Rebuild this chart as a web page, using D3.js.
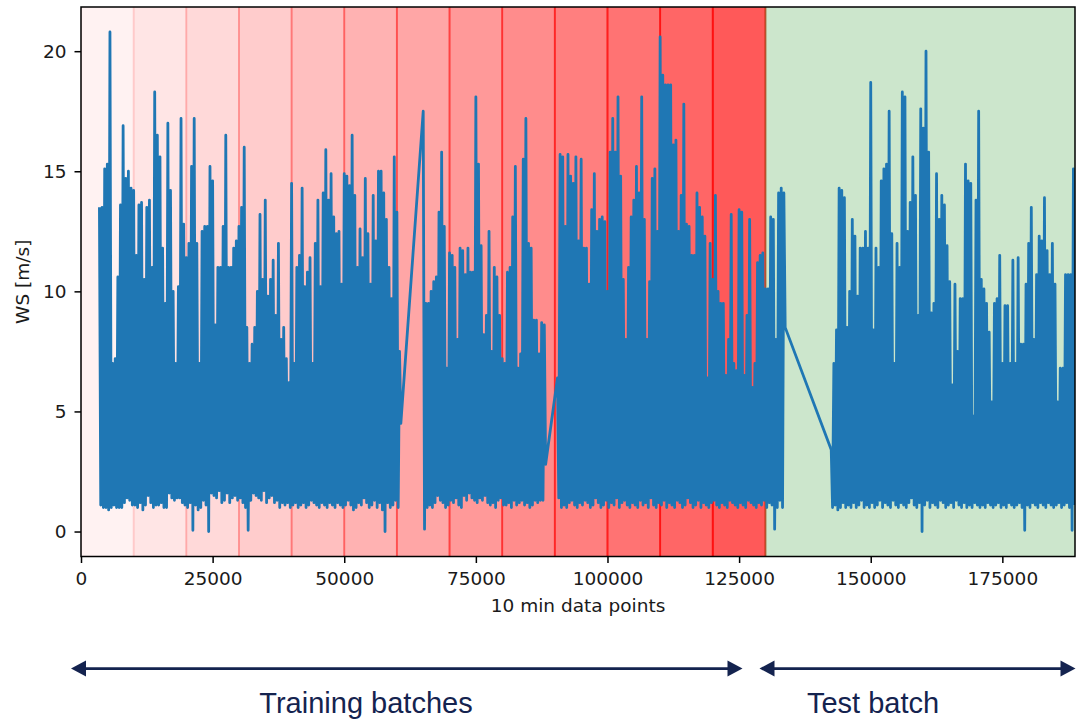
<!DOCTYPE html>
<html>
<head>
<meta charset="utf-8">
<script src="https://cdn.jsdelivr.net/npm/d3@7"></script>
<style>
  html, body { margin: 0; padding: 0; background: #ffffff; }
  svg { display: block; }
</style>
</head>
<body>
<svg id="chart" width="1076" height="721"></svg>
<script>
// Wind speed record, 10-minute samples, stored as min/max pairs per 500-sample window.
const SAMPLE_STEP = 500;
const segmentStarts = [3500, 65000, 90500, 142500];

const hiA = [13.5,13.5,15.1,15.3,20.8,7.0,7.2,10.6,13.6,16.9,
  14.7,15.0,14.3,14.2,11.5,13.6,13.7,10.5,13.5,13.8,
  11.0,18.3,16.5,15.6,11.8,9.5,17.0,14.2,10.0,7.0,
  10.2,17.2,12.8,11.4,12.0,15.2,17.2,12.0,7.0,12.5,
  12.7,12.7,15.2,14.6,8.6,11.0,11.0,12.7,16.5,11.0,
  11.0,11.8,12.1,12.7,13.5,16.0,8.5,7.0,7.8,8.5,
  10.0,13.2,10.5,13.8,9.8,10.5,11.3,9.0,12.0,8.0,
  8.5,7.2,6.2,14.5,7.0,11.0,11.5,14.3,10.2,10.8,
  11.4,7.0,12.0,13.8,10.2,14.1,15.9,13.8,14.9,13.1,
  12.4,12.5,10.3,14.9,14.8,14.4,16.5,14.0,11.0,12.6,
  11.4,14.7,12.4,10.3,14.0,12.1,15.0,15.0,14.1,13.0,
  11.0,9.7,15.6,13.3,7.5];
const loA = [1.1,1.0,1.0,0.9,1.0,1.1,1.0,1.0,1.0,1.2,
  1.4,1.3,1.1,1.1,1.0,1.2,0.9,1.1,1.5,1.2,
  1.0,1.1,1.1,1.2,1.0,1.0,1.6,1.4,1.3,1.4,
  1.4,1.2,1.1,1.0,1.2,0.05,1.1,0.9,1.0,1.3,
  1.1,0.0,1.6,1.5,1.4,1.7,1.2,1.3,1.6,1.2,
  1.4,1.5,1.3,1.4,1.2,1.0,0.05,1.3,1.6,1.5,
  1.4,1.3,1.7,1.2,1.4,1.5,1.2,1.3,1.0,1.2,
  1.1,1.2,1.0,1.1,1.2,1.0,1.1,1.2,1.0,1.1,
  1.3,1.2,1.1,1.0,1.2,1.1,1.0,1.2,1.1,1.0,
  1.2,1.1,1.0,1.1,1.3,1.1,0.9,1.0,1.2,1.1,
  1.4,1.2,1.0,1.1,1.3,1.0,1.2,0.9,0.0,1.2,
  1.0,1.1,1.3,1.0,4.5];

const hiB = [17.5,9.5,9.5,10.0,10.4,10.6,13.3,15.8,12.7,6.8,
  11.6,11.5,11.0,8.0,11.8,11.7,10.7,11.8,10.8,10.8,
  18.1,15.3,11.9,8.2,9.0,12.5,7.5,11.0,10.6,9.0,
  7.2,7.0,10.8,11.0,13.1,15.2,6.8,7.4,15.5,17.2,
  12.0,11.8,8.8,8.8,7.4,8.7,8.6];
const loB = [0.1,1.0,1.1,1.0,1.2,1.5,1.3,1.2,1.0,1.1,
  1.3,1.2,1.4,1.1,1.0,1.5,1.3,1.6,1.4,1.3,
  1.2,1.4,1.3,1.5,1.2,1.1,1.2,1.0,1.3,1.4,
  1.1,1.1,1.2,1.0,1.3,1.1,1.2,1.3,1.1,1.2,
  1.0,1.1,1.3,1.2,1.3,1.3,2.8];

const hiC = [6.4,15.7,15.6,12.7,15.7,14.8,14.5,15.6,12.1,15.5,
  11.8,11.8,10.3,13.4,14.9,12.5,13.0,13.1,12.9,10.0,
  15.8,17.2,15.8,18.1,14.8,10.5,8.0,11.0,13.1,13.8,
  15.2,14.1,18.1,13.0,8.0,10.4,14.7,15.1,12.5,20.6,
  19.0,18.6,18.6,18.6,16.1,16.3,12.5,14.0,17.8,12.8,
  12.7,11.5,11.5,14.1,13.5,13.1,12.3,6.4,12.0,10.5,
  14.0,10.0,9.5,9.5,6.5,8.0,13.2,7.0,6.7,13.4,
  13.3,6.5,9.0,13.0,6.0,7.0,11.2,11.5,11.6,10.1,
  10.1,13.1,13.0,8.0,14.1,14.3,14.1];
const loC = [1.4,1.0,1.1,1.0,1.2,1.3,1.1,1.0,1.2,1.1,
  1.3,1.2,1.0,1.1,1.4,1.2,1.0,1.1,1.3,1.0,
  1.2,1.1,1.4,1.0,1.2,1.3,1.1,1.0,1.2,1.1,
  1.0,1.3,1.1,1.2,1.0,1.4,1.1,1.0,1.2,1.1,
  1.3,1.0,1.2,1.1,1.0,1.3,1.2,1.0,1.1,1.4,
  1.2,1.0,1.1,1.3,1.0,1.2,1.1,1.0,1.2,1.3,
  1.1,1.0,1.2,1.1,1.0,1.3,1.2,1.1,1.0,1.2,
  1.1,1.0,1.3,1.2,1.1,1.0,1.2,1.1,1.3,1.0,
  1.2,1.1,0.1,1.0,1.3,1.0,8.5];

const hiD = [3.4,7.0,8.4,14.3,14.2,13.9,8.5,10.0,13.0,12.3,
  9.8,11.8,11.8,12.5,11.8,18.7,8.4,11.8,11.0,14.6,
  15.1,15.3,17.5,12.4,7.0,12.0,11.0,18.3,18.1,12.5,
  13.7,15.6,14.0,9.0,17.6,16.8,20.0,15.8,9.1,9.5,
  14.9,13.0,14.0,13.6,11.9,10.4,6.1,10.3,7.5,9.7,
  9.7,15.3,14.6,14.5,4.8,13.8,17.5,10.5,10.1,9.5,
  8.3,5.4,9.5,9.7,11.5,7.0,9.4,9.4,7.0,11.3,
  7.0,11.4,7.8,7.8,10.3,12.0,13.5,8.0,10.7,12.3,
  12.1,13.9,11.7,10.7,12.0,10.3,5.4,6.8,6.8,10.7,
  10.7,10.7,15.1];
const loD = [1.0,1.1,0.9,1.0,1.2,1.0,1.1,1.0,1.2,1.0,
  1.1,1.3,1.0,1.1,1.0,1.2,1.0,1.1,1.3,1.0,
  1.2,1.1,1.0,1.3,1.1,1.0,1.2,1.1,1.0,1.2,
  1.4,1.1,1.0,1.2,0.0,1.1,1.3,1.0,1.2,1.1,
  1.0,1.3,1.2,1.0,1.1,1.2,1.0,1.3,1.1,1.0,
  1.2,1.0,1.1,1.0,1.2,1.1,1.0,1.1,1.0,1.2,
  1.1,1.0,1.1,1.2,1.0,1.1,1.0,1.2,1.1,1.0,
  1.1,1.2,1.0,0.05,1.1,1.0,1.2,1.1,1.0,1.2,
  1.1,1.0,1.2,1.1,1.0,1.1,1.2,1.0,1.1,1.2,
  1.0,0.05,1.1];

// Training batches (10 000 samples each) and the held-out test batch
const batchEdges = [0,10000,20000,30000,40000,50000,60000,70000,80000,90000,100000,110000,120000,130000];
const batchAlphas = [0.05,0.10,0.15,0.20,0.25,0.30,0.35,0.40,0.45,0.50,0.55,0.60,0.65];
const testRange = [130000, 188800];
const xDomain = [0, 188800];
const yDomain = [-1.04, 21.84];
const xTicks = [0,25000,50000,75000,100000,125000,150000,175000];
const yTicks = [0,5,10,15,20];

const svg = d3.select("#chart");
const W = 1076, H = 721;
const plot = {left: 81, right: 1075, top: 7, bottom: 556.5};

const x = d3.scaleLinear().domain(xDomain).range([plot.left, plot.right]);
const y = d3.scaleLinear().domain(yDomain).range([plot.bottom, plot.top]);

svg.append("rect").attr("width", W).attr("height", H).attr("fill", "#ffffff");

svg.append("defs").append("clipPath").attr("id", "plotClip")
  .append("rect")
  .attr("x", plot.left).attr("y", plot.top)
  .attr("width", plot.right - plot.left).attr("height", plot.bottom - plot.top);

const inner = svg.append("g").attr("clip-path", "url(#plotClip)");

// shaded batches
const bands = batchAlphas.map((a, i) => ({x0: batchEdges[i], x1: batchEdges[i + 1], a, color: "#ff0000"}));
bands.push({x0: testRange[0], x1: testRange[1] + 2000, a: 0.2, color: "#008000"});

inner.selectAll("rect.band").data(bands).join("rect")
  .attr("class", "band")
  .attr("x", d => x(d.x0))
  .attr("width", d => x(d.x1) - x(d.x0))
  .attr("y", plot.top - 3)
  .attr("height", plot.bottom - plot.top + 6)
  .attr("fill", d => d.color)
  .attr("fill-opacity", d => d.a)
  .attr("stroke", d => d.color)
  .attr("stroke-opacity", d => d.a)
  .attr("stroke-width", 1.85);

// wind speed trace
const segments = [[hiA, loA], [hiB, loB], [hiC, loC], [hiD, loD]];
const points = [];
segments.forEach(([hi, lo], s) => {
  hi.forEach((v, i) => {
    const x0 = segmentStarts[s] + i * SAMPLE_STEP;
    points.push({x: x0, v: v});
    points.push({x: x0 + SAMPLE_STEP / 2, v: lo[i]});
  });
});

const line = d3.line().x(d => x(d.x)).y(d => y(d.v));
inner.append("path")
  .datum(points)
  .attr("d", line)
  .attr("fill", "none")
  .attr("stroke", "#1f77b4")
  .attr("stroke-width", 2.8)
  .attr("stroke-linejoin", "round")
  .attr("stroke-linecap", "butt");

// axes
const tickFont = "DejaVu Sans, sans-serif";
const xAxis = svg.append("g")
  .attr("transform", `translate(0,${plot.bottom})`)
  .call(d3.axisBottom(x).tickValues(xTicks).tickFormat(d3.format("d")).tickSize(6.5).tickSizeOuter(0).tickPadding(9));
const yAxis = svg.append("g")
  .attr("transform", `translate(${plot.left},0)`)
  .call(d3.axisLeft(y).tickValues(yTicks).tickFormat(d3.format("d")).tickSize(6.5).tickSizeOuter(0).tickPadding(8));

[xAxis, yAxis].forEach(g => {
  g.select(".domain").remove();
  g.selectAll(".tick line").attr("stroke", "#000").attr("stroke-width", 1.5);
  g.selectAll(".tick text")
    .attr("fill", "#1a1a1a")
    .style("font-family", tickFont)
    .style("font-size", "18.5px");
});

// frame
svg.append("rect")
  .attr("x", plot.left).attr("y", plot.top)
  .attr("width", plot.right - plot.left).attr("height", plot.bottom - plot.top)
  .attr("fill", "none").attr("stroke", "#000").attr("stroke-width", 1.5);

svg.append("text")
  .attr("x", (plot.left + plot.right) / 2).attr("y", 612)
  .attr("text-anchor", "middle")
  .attr("fill", "#1a1a1a")
  .style("font-family", tickFont).style("font-size", "18.5px")
  .text("10 min data points");

svg.append("text")
  .attr("transform", `translate(29,${(plot.top + plot.bottom) / 2}) rotate(-90)`)
  .attr("text-anchor", "middle")
  .attr("fill", "#1a1a1a")
  .style("font-family", tickFont).style("font-size", "18.5px")
  .text("WS [m/s]");

// batch span arrows
const navy = "#14234f";
const arrowY = 668.5;
const head = 15, half = 8;
const spans = [
  {from: 71, to: 742.5, label: "Training batches", cx: 366},
  {from: 759.5, to: 1075.5, label: "Test batch", cx: 873}
];
const arrows = svg.append("g");
spans.forEach(s => {
  arrows.append("line")
    .attr("x1", s.from + head - 1).attr("x2", s.to - head + 1)
    .attr("y1", arrowY).attr("y2", arrowY)
    .attr("stroke", navy).attr("stroke-width", 2.75);
  arrows.append("polygon")
    .attr("points", `${s.from},${arrowY} ${s.from + head},${arrowY - half} ${s.from + head},${arrowY + half}`)
    .attr("fill", navy);
  arrows.append("polygon")
    .attr("points", `${s.to},${arrowY} ${s.to - head},${arrowY - half} ${s.to - head},${arrowY + half}`)
    .attr("fill", navy);
  arrows.append("text")
    .attr("x", s.cx).attr("y", 713)
    .attr("text-anchor", "middle")
    .attr("fill", navy)
    .style("font-family", "Liberation Sans, Arial, sans-serif")
    .style("font-size", "29px")
    .text(s.label);
});
</script>
</body>
</html>
